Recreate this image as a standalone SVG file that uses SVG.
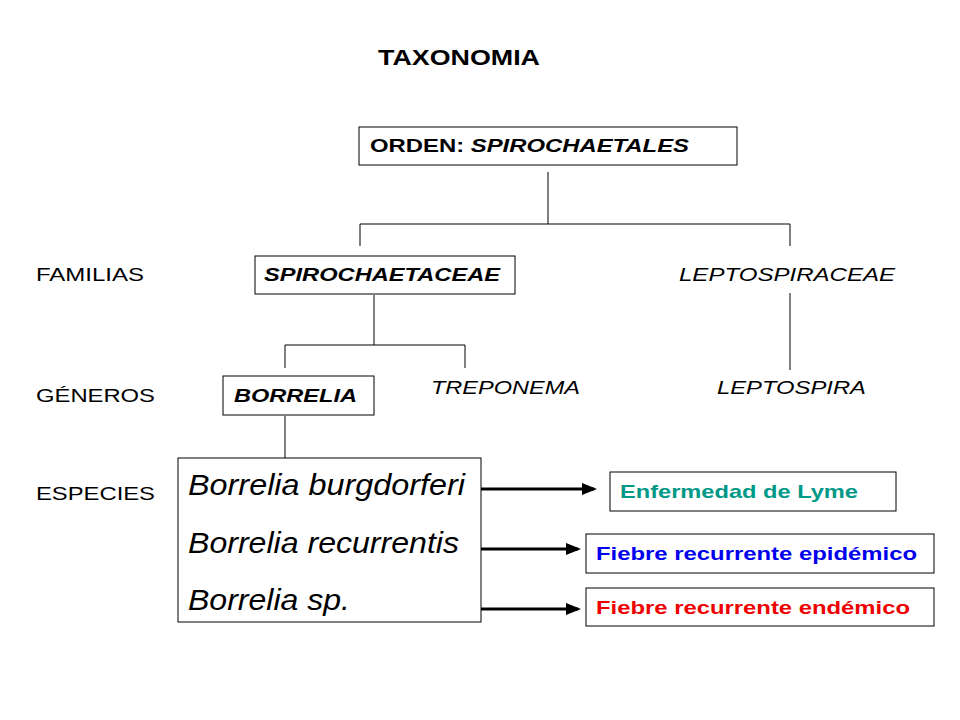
<svg xmlns="http://www.w3.org/2000/svg" width="960" height="720" viewBox="0 0 960 720">
<style>
text{font-family:"Liberation Sans",Arial,sans-serif;font-size:19px;fill:#000}
.b{font-weight:bold}.i{font-style:italic}
.box{fill:#fff;stroke:#000;stroke-width:1}
.ln{fill:none;stroke:#000;stroke-width:1}
.ar{fill:none;stroke:#000;stroke-width:3;marker-end:url(#ah)}
.sp{font-size:29px;font-style:italic}
</style>
<defs><marker id="ah" markerWidth="5" markerHeight="4" refX="4" refY="2" orient="auto"><path d="M0,0L5,2L0,4z" fill="#000"/></marker></defs>
<rect width="960" height="720" fill="#fff"/>
<text x="378" y="65" class="b" style="font-size:22px" textLength="162" lengthAdjust="spacingAndGlyphs">TAXONOMIA</text>
<text x="36" y="281" textLength="108" lengthAdjust="spacingAndGlyphs">FAMILIAS</text>
<text x="36" y="402" textLength="119" lengthAdjust="spacingAndGlyphs">GÉNEROS</text>
<text x="36" y="500" textLength="119" lengthAdjust="spacingAndGlyphs">ESPECIES</text>
<g id="connectors">
<path class="ln" d="M548,172V224M360,246V224H790V246"/>
<path class="ln" d="M374,295V345M285,368V345H465V368"/>
<path class="ln" d="M790,293V370"/>
<path class="ln" d="M285,416V458"/>
<path class="ar" d="M474,489H594"/>
<path class="ar" d="M474,549H578"/>
<path class="ar" d="M474,609H578"/>
</g>
<g id="orden"><rect class="box" x="359" y="127" width="378" height="38"/><text x="370" y="152" class="b" textLength="319" lengthAdjust="spacingAndGlyphs">ORDEN: <tspan class="i">SPIROCHAETALES</tspan></text></g>
<g id="spirochaetaceae"><rect class="box" x="255" y="256" width="260" height="38"/><text x="264" y="281" class="b i" textLength="236" lengthAdjust="spacingAndGlyphs">SPIROCHAETACEAE</text></g>
<g id="leptospiraceae"><text x="679" y="281" class="i" textLength="216" lengthAdjust="spacingAndGlyphs">LEPTOSPIRACEAE</text></g>
<g id="borrelia"><rect class="box" x="223" y="376" width="151" height="39"/><text x="234" y="402" class="b i" textLength="123" lengthAdjust="spacingAndGlyphs">BORRELIA</text></g>
<g id="treponema"><text x="431" y="394" class="i" textLength="149" lengthAdjust="spacingAndGlyphs">TREPONEMA</text></g>
<g id="leptospira"><text x="717" y="394" class="i" textLength="149" lengthAdjust="spacingAndGlyphs">LEPTOSPIRA</text></g>
<g id="especies"><rect class="box" x="178" y="458" width="303" height="164"/>
<text x="188" y="495" class="sp" textLength="277" lengthAdjust="spacingAndGlyphs">Borrelia burgdorferi</text>
<text x="188" y="553" class="sp" textLength="271" lengthAdjust="spacingAndGlyphs">Borrelia recurrentis</text>
<text x="188" y="610" class="sp" textLength="162" lengthAdjust="spacingAndGlyphs">Borrelia sp.</text></g>
<g id="lyme"><rect class="box" x="610" y="472" width="286" height="39"/><text x="620" y="498" class="b" style="fill:#009988" textLength="238" lengthAdjust="spacingAndGlyphs">Enfermedad de Lyme</text></g>
<g id="epid"><rect class="box" x="586" y="534" width="348" height="39"/><text x="596" y="560" class="b" style="fill:#0000ee" textLength="321" lengthAdjust="spacingAndGlyphs">Fiebre recurrente epidémico</text></g>
<g id="endem"><rect class="box" x="586" y="588" width="348" height="38"/><text x="596" y="614" class="b" style="fill:#ee0000" textLength="314" lengthAdjust="spacingAndGlyphs">Fiebre recurrente endémico</text></g>
</svg>
